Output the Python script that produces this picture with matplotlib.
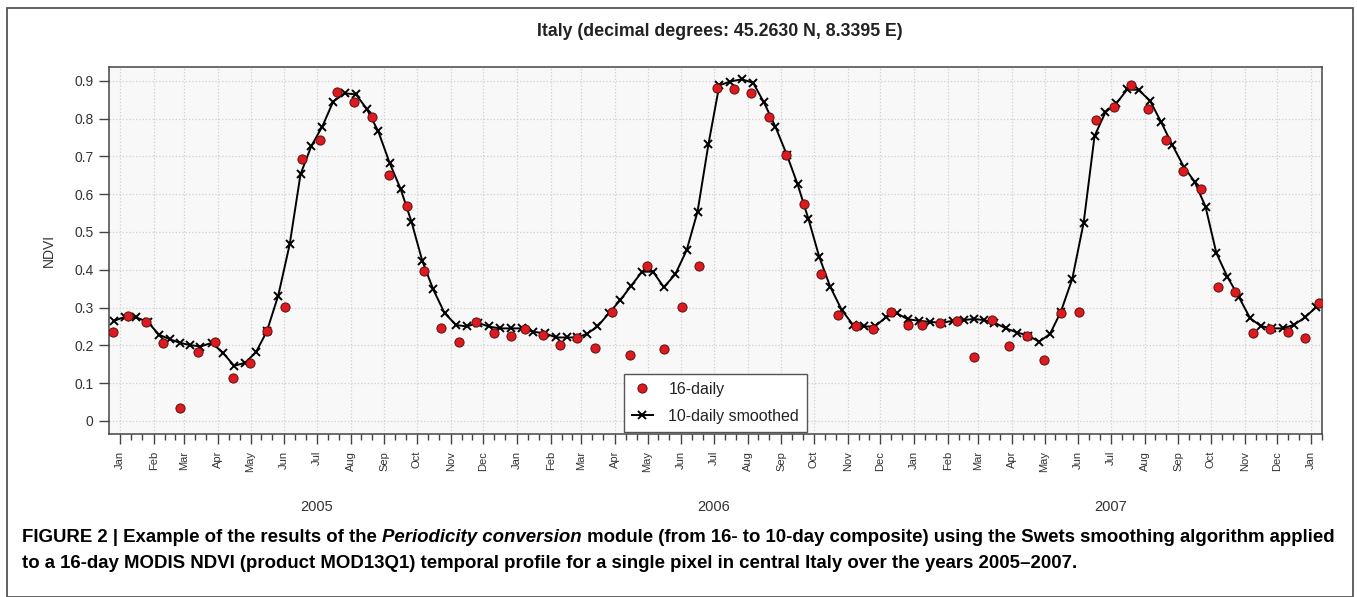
import matplotlib
matplotlib.use("Agg")
import matplotlib.pyplot as plt
import matplotlib.dates as mdates
import matplotlib.transforms as mtransforms
import pandas as pd
from matplotlib.patches import Rectangle
from matplotlib.lines import Line2D

# ---------------- data ----------------
title = "Italy (decimal degrees: 45.2630 N, 8.3395 E)"
ylabel = "NDVI"
years = [2005, 2006, 2007]
yticks = [0, 0.1, 0.2, 0.3, 0.4, 0.5, 0.6, 0.7, 0.8, 0.9]

# 16-day MODIS composites (2004 DOY353, 2005-2007 DOY1..353, 2008 DOY1)
ndvi_16day = [
    0.236,
    0.278, 0.261, 0.207, 0.035, 0.182, 0.208, 0.113, 0.153, 0.237, 0.302, 0.693, 0.743,
    0.870, 0.843, 0.804, 0.651, 0.570, 0.396, 0.245, 0.210, 0.262, 0.234, 0.225,
    0.244, 0.227, 0.201, 0.220, 0.192, 0.289, 0.175, 0.411, 0.190, 0.302, 0.411, 0.882,
    0.877, 0.869, 0.805, 0.704, 0.574, 0.390, 0.280, 0.250, 0.244, 0.288, 0.255,
    0.254, 0.258, 0.265, 0.168, 0.266, 0.199, 0.226, 0.161, 0.287, 0.289, 0.795, 0.830,
    0.888, 0.825, 0.744, 0.661, 0.614, 0.354, 0.340, 0.232, 0.243, 0.236, 0.219,
    0.313,
]

# 10-daily smoothed (dekads: 2004 Dec-3, 2005-2007 all dekads, 2008 Jan-1)
ndvi_10day = [
    0.265,
    # 2005
    0.276, 0.274, 0.262, 0.228, 0.216, 0.207, 0.201, 0.197, 0.207, 0.179, 0.146, 0.154,
    0.182, 0.237, 0.332, 0.467, 0.653, 0.728, 0.779, 0.845, 0.867, 0.864, 0.825, 0.766,
    0.682, 0.614, 0.527, 0.423, 0.348, 0.285, 0.254, 0.250, 0.260, 0.250, 0.245, 0.245,
    # 2006
    0.245, 0.236, 0.232, 0.221, 0.221, 0.221, 0.230, 0.250, 0.285, 0.320, 0.358, 0.395,
    0.395, 0.354, 0.388, 0.452, 0.554, 0.732, 0.888, 0.898, 0.904, 0.895, 0.843, 0.779,
    0.705, 0.626, 0.534, 0.433, 0.355, 0.294, 0.254, 0.250, 0.250, 0.274, 0.285, 0.269,
    # 2007
    0.265, 0.262, 0.260, 0.265, 0.267, 0.270, 0.267, 0.260, 0.245, 0.234, 0.226, 0.210,
    0.230, 0.289, 0.376, 0.525, 0.754, 0.817, 0.840, 0.877, 0.876, 0.847, 0.792, 0.730,
    0.673, 0.633, 0.567, 0.444, 0.382, 0.329, 0.272, 0.251, 0.245, 0.245, 0.254, 0.274,
    # 2008
    0.302,
]

legend_labels = ["16-daily", "10-daily smoothed"]
caption_parts = [
    "FIGURE 2 | Example of the results of the ",
    "Periodicity conversion",
    " module (from 16- to 10-day composite) using the Swets smoothing algorithm applied",
]
caption_line2 = ("to a 16-day MODIS NDVI (product MOD13Q1) temporal profile for a single pixel "
                 "in central Italy over the years 2005\u20132007.")

# ---------------- dates ----------------
comp_start = ([pd.Timestamp("2004-12-18")]
              + [pd.Timestamp(f"{y}-01-01") + pd.Timedelta(days=d)
                 for y in years for d in range(0, 353, 16)]
              + [pd.Timestamp("2008-01-01")])
comp_mid = [d + pd.Timedelta(hours=180) for d in comp_start]

dek_start = ([pd.Timestamp("2004-12-21")]
             + [pd.Timestamp(y, m, d) for y in years for m in range(1, 13) for d in (1, 11, 21)]
             + [pd.Timestamp("2008-01-01")])
dek_end = dek_start[1:] + [pd.Timestamp("2008-01-11")]
dek_mid = [s + (e - s) / 2 for s, e in zip(dek_start, dek_end)]

# ---------------- figure ----------------
FONT = "Liberation Sans"
plt.rcParams["font.family"] = [FONT, "DejaVu Sans"]

W, H = 1357, 597
fig = plt.figure(figsize=(W / 100, H / 100), dpi=100)
fig.patch.set_facecolor("white")

# outer frame
fig.patches.append(Rectangle((7 / W, 0.0), 1346 / W, 589 / H, transform=fig.transFigure,
                             fill=False, edgecolor="#555555", linewidth=1.3))

ax = fig.add_axes([109 / W, 1 - 434 / H, (1322 - 109) / W, (434 - 67) / H])
ax.set_facecolor("#f8f8f8")

x0 = pd.Timestamp("2005-01-01")
ax.set_xlim(mdates.date2num(x0 - pd.Timedelta(days=10.1)),
            mdates.date2num(x0 + pd.Timedelta(days=1105.1)))
ax.set_ylim(-0.0344, 0.9365)

ax.grid(True, which="major", color="#d0d0d0", linestyle=":", linewidth=0.9)
ax.set_axisbelow(True)

ax.plot(dek_mid, ndvi_10day, color="black", linewidth=1.4, marker="x",
        markersize=6, markeredgewidth=1.4, zorder=3)
ax.plot(comp_mid, ndvi_16day, linestyle="none", marker="o", markersize=6.6,
        markerfacecolor="#dd1a1f", markeredgecolor="#5a1010", markeredgewidth=0.7, zorder=4)

ax.xaxis.set_major_locator(mdates.MonthLocator())
ax.xaxis.set_major_formatter(mdates.DateFormatter("%b"))
ax.xaxis.set_minor_locator(mdates.DayLocator(bymonthday=[11, 21]))
ax.tick_params(axis="x", which="major", length=7, width=1, color="#444444",
               labelsize=8, labelcolor="#333333", labelrotation=90, pad=5)
ax.tick_params(axis="x", which="minor", length=4, width=1, color="#444444")

ax.set_yticks(yticks)
ax.set_yticklabels(["0" if v == 0 else f"{v:.1f}" for v in yticks])
ax.tick_params(axis="y", length=7, width=1, color="#444444", labelsize=10,
               labelcolor="#333333", pad=4)
for s in ax.spines.values():
    s.set_color("#444444")
    s.set_linewidth(1.1)

ax.set_ylabel(ylabel, fontsize=10, color="#333333", labelpad=13)

# year labels
blend = mtransforms.blended_transform_factory(ax.transData, fig.transFigure)
for y in years:
    xm = mdates.date2num(pd.Timestamp(f"{y}-07-01"))
    ax.text(xm, 1 - 507 / H, str(y), transform=blend,
            ha="center", va="center", fontsize=10.5, color="#333333")

# title
fig.text(720 / W, 1 - 32 / H, title, ha="center", va="center", fontsize=12.8,
         fontweight="bold", color="#222222")

# legend
handles = [
    Line2D([], [], linestyle="none", marker="o", markersize=6.6, markerfacecolor="#dd1a1f",
           markeredgecolor="#5a1010", markeredgewidth=0.7),
    Line2D([], [], color="black", linewidth=1.4, marker="x", markersize=6, markeredgewidth=1.4),
]
leg = ax.legend(handles, legend_labels, loc="lower center", bbox_to_anchor=(0.5, 0.0),
                fontsize=11.5, frameon=True, fancybox=False, edgecolor="#555555",
                framealpha=1, borderaxespad=0.15, handlelength=1.3, handletextpad=1.0,
                labelspacing=0.75, borderpad=0.5)
leg.get_frame().set_linewidth(1.0)
for t in leg.get_texts():
    t.set_color("#222222")

# caption with italic part
fig.canvas.draw()
renderer = fig.canvas.get_renderer()
cx = 22 / W
cy1 = 1 - 537 / H
styles = ["normal", "italic", "normal"]
for part, st in zip(caption_parts, styles):
    t = fig.text(cx, cy1, part, ha="left", va="center", fontsize=13.4, fontweight="bold",
                 style=st, color="black")
    bb = t.get_window_extent(renderer=renderer)
    cx = bb.x1 / W
fig.text(22 / W, 1 - 563 / H, caption_line2, ha="left", va="center", fontsize=13.4,
         fontweight="bold", color="black")

fig.savefig("out.png", dpi=100)
